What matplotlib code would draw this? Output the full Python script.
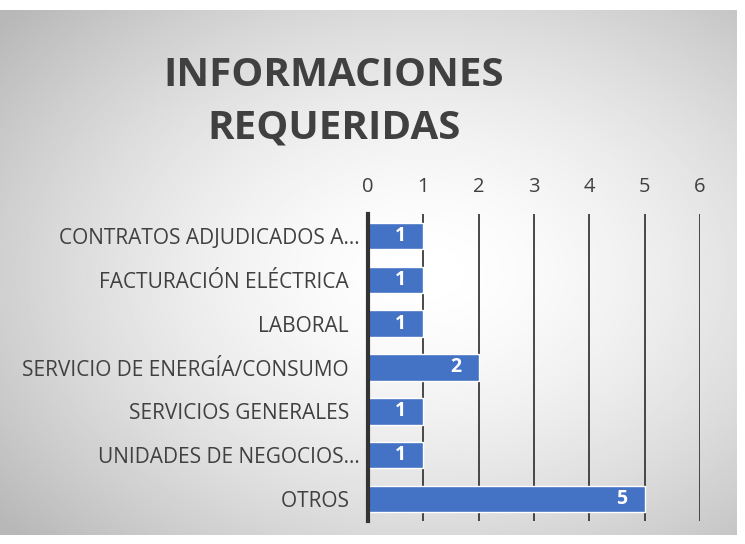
import numpy as np
import matplotlib.pyplot as plt

categorias = ["CONTRATOS ADJUDICADOS A…", "FACTURACIÓN ELÉCTRICA  ", "LABORAL  ",
              "SERVICIO DE ENERGÍA/CONSUMO  ", "SERVICIOS GENERALES  ",
              "UNIDADES DE NEGOCIOS…", "OTROS  "]
valores = [1, 1, 1, 2, 1, 1, 5]
ticks_x = [0, 1, 2, 3, 4, 5, 6]

plt.rcParams['font.family'] = ['Open Sans', 'DejaVu Sans']
texto = '#404040'

fig = plt.figure(figsize=(7.45, 5.44), dpi=100)

# Fondo con degradado radial
fondo = fig.add_axes([0, 9 / 544, 737 / 745, 525 / 544])
fondo.set_axis_off()
xx, yy = np.meshgrid(np.linspace(0, 1, 400), np.linspace(0, 1, 300))
r = np.sqrt(((xx - 0.58) / 0.75) ** 2 + ((yy - 0.5) / 0.75) ** 2)
g = 1.0 - 0.28 * np.clip(r, 0, 1) ** 1.6
fondo.imshow(g, cmap='gray', vmin=0, vmax=1, aspect='auto', extent=[0, 1, 0, 1])

fig.text(334 / 745, 1 - 75 / 544, "INFORMACIONES", ha='center', va='center',
         fontsize=29, fontweight='bold', color=texto)
fig.text(334 / 745, 1 - 128 / 544, "REQUERIDAS", ha='center', va='center',
         fontsize=29, fontweight='bold', color=texto)

ax = fig.add_axes([368 / 745, 1 - 521 / 544, 332 / 745, 307 / 544])
ax.patch.set_alpha(0)
y = np.arange(len(categorias))
barras = ax.barh(y, valores, height=0.6, color='#4472C4', edgecolor='white', linewidth=1, zorder=3)
for yi, v in zip(y, valores):
    ax.text(v - 0.42, yi, str(v), ha='center', va='center', color='white',
            fontsize=14, fontweight='bold', zorder=4)

ax.set_xlim(0, 6)
ax.set_ylim(6.5, -0.5)
ax.set_xticks(ticks_x)
ax.xaxis.tick_top()
ax.tick_params(axis='x', length=0, labelsize=14.5, labelcolor=texto, pad=12)
ax.set_yticks(y)
ax.set_yticklabels(categorias)
ax.tick_params(axis='y', length=0, labelsize=15, labelcolor=texto, pad=6)
ax.grid(axis='x', color='#3a3a3a', linewidth=1.3, zorder=1)
for s in ['top', 'right', 'bottom']:
    ax.spines[s].set_visible(False)
ax.spines['left'].set_linewidth(3)
ax.spines['left'].set_color('#333333')
ax.spines['left'].set_zorder(5)

fig.savefig('out.png', dpi=100, facecolor='white')
